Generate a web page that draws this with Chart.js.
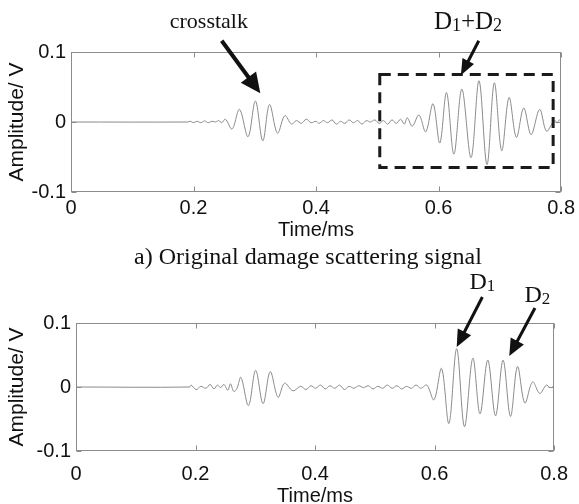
<!DOCTYPE html>
<html><head><meta charset="utf-8">
<script src="https://cdn.jsdelivr.net/npm/chart.js@4/dist/chart.umd.min.js"></script>
<style>
html,body{margin:0;padding:0;background:#fff;overflow:hidden;}
#wrap{position:relative;width:579px;height:504px;overflow:hidden;}
canvas{position:absolute;left:0;top:0;}
#cap{position:absolute;left:308px;top:244px;transform:translateX(-50%);white-space:nowrap;
 font-family:"Liberation Serif","Times New Roman",serif;font-size:24px;line-height:24px;color:#111;}
</style></head><body>
<div id="wrap">
<canvas id="c1" width="579" height="504"></canvas>
<canvas id="c2" width="579" height="510"></canvas>
<div id="cap">a) Original damage scattering signal</div>
</div>
<script>
// ---- data ----
const timeA = [0, 0.19, 0.195, 0.2, 0.206, 0.212, 0.218, 0.224, 0.23, 0.236, 0.241, 0.246, 0.252,
  0.263, 0.275, 0.289, 0.301, 0.313, 0.324, 0.337, 0.349, 0.36,
  0.368, 0.376, 0.384, 0.392, 0.4,
  0.405, 0.412, 0.419, 0.426, 0.433, 0.44, 0.447, 0.454, 0.461, 0.468, 0.475, 0.482, 0.489, 0.496, 0.503, 0.51, 0.517, 0.524, 0.531, 0.538, 0.544,
  0.549, 0.557, 0.568, 0.579, 0.591, 0.602, 0.613, 0.625, 0.638, 0.653, 0.666, 0.679, 0.691, 0.703, 0.715, 0.727, 0.739, 0.751, 0.765, 0.776, 0.787,
  0.79, 0.794, 0.797, 0.8];
const ampA = [0, 0, 0.001, -0.001, 0.001, -0.001, 0.0015, -0.001, 0.001, 0, 0.002, -0.001, 0.004,
  -0.010, 0.018, -0.021, 0.030, -0.027, 0.025, -0.016, 0.009, -0.003,
  0.002, -0.002, 0.004, -0.001, 0.001,
  -0.002, 0.002, -0.001, 0.003, -0.003, 0.001, -0.002, 0.003, -0.001, 0.002, -0.003, 0.002, 0, 0.003, -0.002, 0.002, -0.003, 0.003, -0.002, 0.004, -0.003,
  0.006, -0.006, 0.010, -0.014, 0.026, -0.030, 0.042, -0.046, 0.047, -0.051, 0.059, -0.061, 0.056, -0.041, 0.035, -0.022, 0.020, -0.018, 0.018, -0.013, 0.000,
  0.002, -0.001, 0.003, 0.001];

const timeB = [0, 0.19, 0.1927, 0.201, 0.209, 0.2174, 0.2245, 0.231, 0.2366, 0.242, 0.2475, 0.254, 0.2585, 0.264, 0.2694,
  0.276, 0.2886, 0.3006, 0.313, 0.325, 0.338, 0.349, 0.363, 0.376,
  0.385, 0.393, 0.401, 0.409, 0.417, 0.425, 0.433, 0.441, 0.449, 0.457, 0.465, 0.473, 0.481, 0.489, 0.497, 0.505, 0.513, 0.521, 0.529, 0.537, 0.545, 0.553, 0.561, 0.569, 0.577,
  0.587, 0.599, 0.6117, 0.624, 0.637, 0.650, 0.664, 0.676, 0.689, 0.702, 0.7146, 0.727, 0.7387, 0.751, 0.764, 0.776, 0.787,
  0.793, 0.8];
const ampB = [0, 0, 0.003, -0.004, 0.001, -0.002, 0.004, -0.003, 0.003, -0.001, 0.004, -0.005, 0.005, -0.007, -0.002,
  0.015, -0.029, 0.026, -0.026, 0.024, -0.016, 0.006, -0.006, 0.001,
  -0.004, 0.002, -0.002, 0.003, -0.003, 0.002, -0.002, 0.003, -0.004, 0.001, -0.002, 0.002, -0.001, 0.002, -0.003, 0.001, -0.002, 0.003, -0.002, 0.002, -0.003, 0.001, -0.002, 0.003, -0.002,
  0.003, -0.020, 0.029, -0.057, 0.060, -0.062, 0.045, -0.042, 0.042, -0.045, 0.042, -0.046, 0.032, -0.025, 0.008, -0.010, 0.003,
  -0.001, 0.001];

const xTicks = [0, 0.2, 0.4, 0.6, 0.8];
const xTickLabels = ['0', '0.2', '0.4', '0.6', '0.8'];
const yTicks = [-0.1, 0, 0.1];
const yTickLabels = ['-0.1', '0', '0.1'];
const xTitle = 'Time/ms';
const yTitle = 'Amplitude/ V';

// annotations in data coordinates [time, amplitude]
const regionA = [0.504, 0.787, -0.065, 0.068];          // dashed box: x0, x1, y0, y1
const arrowsA = [[[0.246, 0.116], [0.309, 0.041]], [[0.6656, 0.116], [0.6364, 0.0667]]];
const labelsA = [{text: [['crosstalk', 0]], at: [0.225, 0.144]},
                 {text: [['D', 0], ['1', 1], ['+', 0], ['D', 0], ['2', 1]], at: [0.648, 0.144]}];
const arrowsB = [[[0.680, 0.1406], [0.637, 0.0625]], [[0.768, 0.1234], [0.725, 0.0484]]];
const labelsB = [{text: [['D', 0], ['1', 1]], at: [0.680, 0.166]},
                 {text: [['D', 0], ['2', 1]], at: [0.772, 0.145]}];

// ---- drawing ----
const SANS = '"Liberation Sans", Arial, Helvetica, sans-serif';
const SERIF = '"Liberation Serif", "Times New Roman", serif';
const BOX = '#8c8c8c';

function drawArrow(ctx, x0, y0, x1, y1, lw, hl, hw) {
  const a = Math.atan2(y1 - y0, x1 - x0);
  const bx = x1 - hl * Math.cos(a), by = y1 - hl * Math.sin(a);
  ctx.lineWidth = lw; ctx.strokeStyle = '#111'; ctx.fillStyle = '#111'; ctx.setLineDash([]);
  ctx.beginPath(); ctx.moveTo(x0, y0); ctx.lineTo(bx + Math.cos(a), by + Math.sin(a)); ctx.stroke();
  ctx.beginPath(); ctx.moveTo(x1, y1);
  ctx.lineTo(bx + hw / 2 * Math.sin(a), by - hw / 2 * Math.cos(a));
  ctx.lineTo(bx - hw / 2 * Math.sin(a), by + hw / 2 * Math.cos(a));
  ctx.closePath(); ctx.fill();
}

function drawRich(ctx, parts, cx, cy, size) {
  const sub = Math.round(size * 0.7);
  let w = 0;
  parts.forEach(([s, isSub]) => { ctx.font = (isSub ? sub : size) + 'px ' + SERIF; w += ctx.measureText(s).width; });
  let x = cx - w / 2;
  const base = cy + size * 0.33;
  ctx.fillStyle = '#111'; ctx.textAlign = 'left'; ctx.textBaseline = 'alphabetic';
  parts.forEach(([s, isSub]) => {
    ctx.font = (isSub ? sub : size) + 'px ' + SERIF;
    ctx.fillText(s, x, base + (isSub ? 2 : 0));
    x += ctx.measureText(s).width;
  });
}

const decor = {
  id: 'decor',
  afterDraw(chart, args, o) {
    const {ctx, chartArea: a, scales: {x, y}} = chart;
    ctx.save();
    const L = Math.round(a.left) + 0.5, R = Math.round(a.right) - 0.5, T = Math.round(a.top) + 0.5, B = Math.round(a.bottom) - 0.5;
    ctx.strokeStyle = BOX; ctx.lineWidth = 1;
    ctx.beginPath();
    xTicks.forEach(v => {
      const p = Math.round(x.getPixelForValue(v)) + 0.5;
      ctx.moveTo(p, T); ctx.lineTo(p, T + 5); ctx.moveTo(p, B); ctx.lineTo(p, B - 5);
    });
    yTicks.forEach(v => {
      const p = Math.round(y.getPixelForValue(v)) + 0.5;
      ctx.moveTo(L, p); ctx.lineTo(L + 5, p); ctx.moveTo(R, p); ctx.lineTo(R - 5, p);
    });
    ctx.stroke();
    ctx.strokeRect(L, T, R - L, B - T);
    if (o.region) {
      const [x0, x1, y0, y1] = o.region;
      ctx.strokeStyle = '#1a1a1a'; ctx.lineWidth = 3; ctx.setLineDash([11, 7]);
      const px0 = x.getPixelForValue(x0), px1 = x.getPixelForValue(x1);
      const py0 = y.getPixelForValue(y0), py1 = y.getPixelForValue(y1);
      ctx.strokeRect(px0, py1, px1 - px0, py0 - py1);
      ctx.setLineDash([]);
    }
    (o.arrows || []).forEach(([f, t], i) => {
      drawArrow(ctx, x.getPixelForValue(f[0]), y.getPixelForValue(f[1]), x.getPixelForValue(t[0]), y.getPixelForValue(t[1]),
        o.lw[i], o.hl[i], o.hw[i]);
    });
    (o.labels || []).forEach((lb, i) => {
      drawRich(ctx, lb.text, x.getPixelForValue(lb.at[0]), y.getPixelForValue(lb.at[1]), o.fs[i]);
    });
    ctx.restore();
  }
};

function makeChart(id, times, amps, geo, annot) {
  return new Chart(document.getElementById(id), {
    type: 'line',
    data: {datasets: [{data: times.map((t, i) => ({x: t, y: amps[i]})), borderColor: '#8a8a8a', borderWidth: 1,
      pointRadius: 0, tension: 0.35, fill: false}]},
    options: {
      responsive: false, animation: false, events: [],
      layout: {padding: {left: 0, right: geo.right, top: geo.top, bottom: geo.bottom}},
      plugins: {legend: {display: false}, tooltip: {enabled: false}, decor: annot},
      scales: {
        x: {type: 'linear', min: 0, max: 0.8,
          afterBuildTicks: s => { s.ticks = xTicks.map(v => ({value: v})); },
          afterFit: s => { s.height = geo.xh; },
          grid: {display: false, drawTicks: false}, border: {display: false},
          ticks: {padding: geo.xpad, color: '#111', font: {family: SANS, size: 20}, maxRotation: 0,
            callback: (v, i) => xTickLabels[i]},
          title: {display: true, text: xTitle, color: '#111', font: {family: SANS, size: 20}, padding: {top: 0, bottom: geo.tpad}}},
        y: {type: 'linear', min: -0.1, max: 0.1,
          afterBuildTicks: s => { s.ticks = yTicks.map(v => ({value: v})); },
          afterFit: s => { s.width = geo.yw; },
          grid: {display: false, drawTicks: false}, border: {display: false},
          ticks: {padding: 5, color: '#111', font: {family: SANS, size: 20}, callback: (v, i) => yTickLabels[i]},
          title: {display: true, text: yTitle, color: '#111', font: {family: SANS, size: 21}, padding: {top: 5, bottom: 0}}}
      }
    },
    plugins: [decor]
  });
}

makeChart('c1', timeA, ampA, {top: 52, bottom: 262, right: 14, xh: 50, yw: 71, xpad: 4, tpad: 0},
  {region: regionA, arrows: arrowsA, lw: [4, 3], hl: [20, 16], hw: [19, 13], labels: labelsA, fs: [22, 25]});
makeChart('c2', timeB, ampB, {top: 323, bottom: 0, right: 16, xh: 59, yw: 76, xpad: 11, tpad: 2},
  {arrows: arrowsB, lw: [3, 3], hl: [17, 17], hw: [15, 15], labels: labelsB, fs: [24, 24]});
</script>
</body></html>
